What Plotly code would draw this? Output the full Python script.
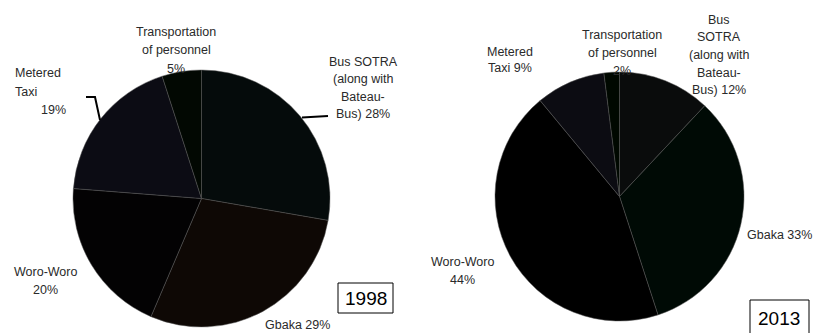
import plotly.graph_objects as go

W, H = 814, 333

categories = ["Bus SOTRA (along with Bateau-Bus)", "Gbaka", "Woro-Woro", "Metered Taxi", "Transportation of personnel"]
values_1998 = [28, 29, 20, 19, 5]
values_2013 = [12, 33, 44, 9, 2]
years = ["1998", "2013"]
colors_1998 = ["#050b0b", "#0e0805", "#030203", "#0c0c14", "#020802"]
colors_2013 = ["#0a0c0c", "#000a05", "#000000", "#0c0c12", "#000800"]


def px(x):
    return x / W


def py(y):
    return 1 - y / H


fig = go.Figure()

fig.add_trace(go.Pie(
    labels=categories, values=values_1998, sort=False, direction="clockwise",
    rotation=0, textinfo="none", hoverinfo="label+percent",
    marker=dict(colors=colors_1998, line=dict(color="#555555", width=0.5)),
    domain=dict(x=[px(73), px(330)], y=[py(327), py(70)]),
    showlegend=False,
))
fig.add_trace(go.Pie(
    labels=categories, values=values_2013, sort=False, direction="clockwise",
    rotation=0, textinfo="none", hoverinfo="label+percent",
    marker=dict(colors=colors_2013, line=dict(color="#555555", width=0.5)),
    domain=dict(x=[px(495), px(744)], y=[py(321), py(72)]),
    showlegend=False,
))

lab_font = dict(family="Liberation Sans, Arial, sans-serif", size=12.5, color="#2a2a2a")

# (lines, x, first-line y, line spacing, align)
labels = [
    # 1998
    (["Transportation", "of personnel", f"{values_1998[4]}%"], 176, 32, 18.5, "center"),
    (["Bus SOTRA", "(along with", "Bateau-", f"Bus) {values_1998[0]}%"], 363, 62, 17.4, "center"),
    (["Metered", "Taxi"], 13, 73, 19, "left"),
    ([f"{values_1998[3]}%"], 53, 110, 17, "center"),
    (["Woro-Woro", f"{values_1998[2]}%"], 45, 272, 18, "center"),
    ([f"Gbaka {values_1998[1]}%"], 297, 325, 17, "center"),
    # 2013
    (["Metered", f"Taxi {values_2013[3]}%"], 510, 52, 16.5, "center"),
    (["Transportation", "of personnel", f"{values_2013[4]}%"], 622, 35, 18, "center"),
    (["Bus", "SOTRA", "(along with", "Bateau-", f"Bus) {values_2013[0]}%"], 719, 20, 17.5, "center"),
    ([f"Gbaka {values_2013[1]}%"], 779, 235, 17, "center"),
    (["Woro-Woro", f"{values_2013[2]}%"], 462, 262, 18, "center"),
]

annotations = []
for lines, x, y0, dy, align in labels:
    for i, line in enumerate(lines):
        annotations.append(dict(
            text=line, x=px(x), y=py(y0 + i * dy), xref="paper", yref="paper",
            xanchor=align, yanchor="middle", showarrow=False,
            font=lab_font,
        ))

# year boxes
annotations.append(dict(text=years[0], x=px(366), y=py(298), xref="paper", yref="paper",
                        showarrow=False, xanchor="center", yanchor="middle",
                        font=dict(family="Liberation Sans, Arial, sans-serif", size=19, color="#000")))
annotations.append(dict(text=years[1], x=px(779), y=py(318), xref="paper", yref="paper",
                        showarrow=False, xanchor="center", yanchor="middle",
                        font=dict(family="Liberation Sans, Arial, sans-serif", size=19, color="#000")))

shapes = [
    dict(type="rect", xref="paper", yref="paper", x0=px(338), x1=px(393), y0=py(313), y1=py(283),
         line=dict(color="#000", width=1), fillcolor="white"),
    dict(type="rect", xref="paper", yref="paper", x0=px(750), x1=px(809), y0=py(340), y1=py(300),
         line=dict(color="#000", width=1), fillcolor="white"),
    # leader lines
    dict(type="path", xref="paper", yref="paper",
         path=f"M {px(86)},{py(97)} L {px(95)},{py(97)} L {px(100)},{py(120)}",
         line=dict(color="#000", width=2)),
    dict(type="line", xref="paper", yref="paper", x0=px(302), y0=py(117.5), x1=px(328), y1=py(116),
         line=dict(color="#000", width=2)),
]

fig.update_layout(
    width=W, height=H, margin=dict(l=0, r=0, t=0, b=0),
    paper_bgcolor="white", plot_bgcolor="white",
    annotations=annotations, shapes=shapes,
)

fig.write_html("out.html")
